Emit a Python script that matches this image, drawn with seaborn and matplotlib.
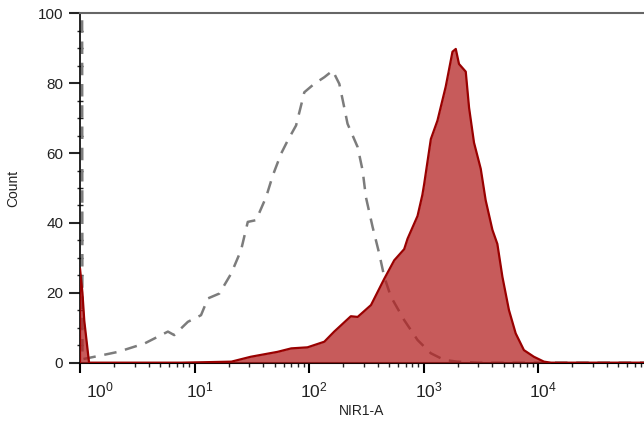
import numpy as np
import matplotlib
matplotlib.use("Agg")
import matplotlib.pyplot as plt
import matplotlib.ticker as mticker
import matplotlib.transforms as mtransforms
import seaborn as sns

# ---- data ----
red_x = [1.0, 1.0, 1.05, 1.09, 1.2, 7.7, 21, 31, 53, 70, 97, 136, 166, 232, 266,
         348, 454, 555, 678, 726, 887, 977, 1012, 1159, 1324, 1563, 1791, 1914,
         2042, 2339, 2500, 2761, 3162, 3491, 4000, 4416, 4887, 5572, 6383, 7534,
         9204, 11272, 13000, 90000]
red_y = [0, 27, 20, 12, 0, 0, 0.3, 1.7, 3.1, 4.1, 4.4, 6, 8.9, 13.3, 13.1,
         16.5, 24, 29.3, 32.5, 35.5, 42, 48, 51, 64, 69.3, 79, 89, 89.8,
         85.5, 83.3, 73, 63, 55.5, 46.5, 38, 34, 24.6, 15.1, 8.4, 3.6,
         1.7, 0.3, 0, 0]

gray_x = [1.04, 1.05, 1.59, 2.15, 3.66, 5.86, 6.65, 8.75, 11.4, 13.1, 16.5, 20.9,
          25.5, 29.2, 34.5, 42.2, 48.3, 57.0, 65.2, 77.1, 88.1, 91.0, 111, 136,
          161, 184, 203, 217, 266, 294, 314, 359, 410, 454, 519, 678, 887, 1159,
          1513, 1977, 3000, 90000]
gray_y = [150, 1.0, 2.2, 3.1, 5.5, 8.9, 7.9, 11.7, 13.6, 18.4, 19.8, 25.5,
          32.2, 40.3, 40.8, 47.4, 53.6, 59.8, 63.6, 67.9, 75.5, 77.4, 79.8, 81.7,
          83.6, 79.8, 73.1, 68.4, 61.7, 55, 47.4, 38.9, 31.3, 24.6, 18.9, 12.2, 6.5, 2.7,
          0.8, 0.3, 0, 0]

x_major = [1, 10, 100, 1000, 10000, 100000]
x_labels = ["$\\mathregular{10^{0}}$", "$\\mathregular{10^{1}}$", "$\\mathregular{10^{2}}$",
            "$\\mathregular{10^{3}}$", "$\\mathregular{10^{4}}$", "$\\mathregular{10^{5}}$"]
y_major = [0, 20, 40, 60, 80, 100]

# ---- style ----
sns.set_style("ticks")
plt.rcParams['font.family'] = ['Liberation Sans', 'DejaVu Sans']
plt.rcParams['mathtext.fontset'] = 'custom'
plt.rcParams['mathtext.rm'] = 'Liberation Sans'

W, H = 644, 426
fig = plt.figure(figsize=(W / 100, H / 100), dpi=100)
left_px, right_px, top_px, bot_px = 80, 644, 13.3, 362.7
ax = fig.add_axes([left_px / W, (H - bot_px) / H, (right_px - left_px) / W, (bot_px - top_px) / H])
ax.set_xscale('log')

dec = 114.5
ax.set_xlim(1, 10 ** ((right_px - left_px) / dec))
ax.set_ylim(0, 100)

# control histogram (gray dashed)
sns.lineplot(x=gray_x, y=gray_y, sort=False, estimator=None, ax=ax,
             color='#7c7c7c', lw=1.8, linestyle=(0, (5, 3.5)), zorder=2)
# stained histogram (red filled)
ax.fill_between(red_x, red_y, 0, color='#b42222', alpha=0.74, lw=0, zorder=3)
sns.lineplot(x=red_x, y=red_y, sort=False, estimator=None, ax=ax,
             color='#990000', lw=1.6, zorder=4)

# ---- axes / ticks ----
ax.xaxis.set_major_locator(mticker.FixedLocator(x_major))
ax.xaxis.set_major_formatter(mticker.FixedFormatter(x_labels))
ax.xaxis.set_minor_locator(mticker.LogLocator(base=10, subs=np.arange(2, 10), numticks=20))
ax.xaxis.set_minor_formatter(mticker.NullFormatter())
ax.set_yticks(y_major)
ax.yaxis.set_minor_locator(mticker.MultipleLocator(5))

ax.tick_params(axis='x', which='major', direction='out', length=7, width=1.5,
               labelsize=12.5, pad=6, colors='black')
ax.tick_params(axis='x', which='minor', direction='out', length=3, width=1.0)
ax.tick_params(axis='y', which='major', direction='out', length=8, width=1.5,
               labelsize=11, pad=4)
ax.tick_params(axis='y', which='minor', direction='inout', length=4, width=1.0)

for i, lab in enumerate(ax.get_xticklabels()):
    lab.set_color('#222222')
    dx = 20 if i == 0 else 5
    lab.set_transform(lab.get_transform() + mtransforms.ScaledTranslation(dx / 100, 0, fig.dpi_scale_trans))
for lab in ax.get_yticklabels():
    lab.set_color('#222222')

ax.spines['right'].set_visible(False)
ax.spines['top'].set_color('#666666')
ax.spines['top'].set_linewidth(1.5)
ax.spines['left'].set_color('black')
ax.spines['left'].set_linewidth(1.2)
ax.spines['bottom'].set_color('black')
ax.spines['bottom'].set_linewidth(1.5)

ax.set_xlabel("NIR1-A", fontsize=10, color='#222222')
ax.set_ylabel("Count", fontsize=10, color='#222222')
ax.xaxis.set_label_coords(0.5, (bot_px - 404) / (bot_px - top_px))
ax.yaxis.set_label_coords((20 - left_px) / (right_px - left_px), 0.5)

fig.savefig("out.png", dpi=100)
